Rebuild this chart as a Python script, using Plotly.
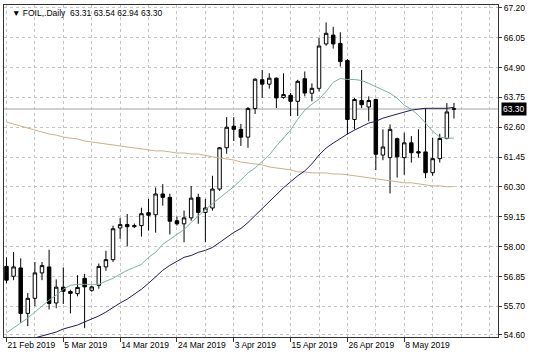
import plotly.graph_objects as go
from datetime import datetime

# ---- data ----
dates = [
    "2019-02-21", "2019-02-22", "2019-02-25", "2019-02-26", "2019-02-27", "2019-02-28", "2019-03-01", "2019-03-04",
    "2019-03-05", "2019-03-06", "2019-03-07", "2019-03-08", "2019-03-10", "2019-03-11", "2019-03-12", "2019-03-13",
    "2019-03-14", "2019-03-15", "2019-03-17", "2019-03-18", "2019-03-19", "2019-03-20", "2019-03-21", "2019-03-22",
    "2019-03-24", "2019-03-25", "2019-03-26", "2019-03-27", "2019-03-28", "2019-03-29", "2019-04-01", "2019-04-02",
    "2019-04-03", "2019-04-04", "2019-04-05", "2019-04-08", "2019-04-09", "2019-04-10", "2019-04-11", "2019-04-12",
    "2019-04-15", "2019-04-16", "2019-04-17", "2019-04-18", "2019-04-22", "2019-04-23", "2019-04-24", "2019-04-25",
    "2019-04-26", "2019-04-29", "2019-04-30", "2019-05-01", "2019-05-02", "2019-05-03", "2019-05-06", "2019-05-07",
    "2019-05-08", "2019-05-09", "2019-05-10", "2019-05-13", "2019-05-14", "2019-05-15", "2019-05-16", "2019-05-17",
]

opens = [57.24, 56.86, 57.18, 55.43, 56.01, 56.99, 57.22, 55.83, 56.44, 56.27, 56.19, 56.78, 56.32, 56.51, 57.22, 57.50,
         58.72, 58.85, 58.77, 58.81, 59.31, 59.23, 60.03, 59.90, 59.00, 58.88, 59.11, 59.90, 59.32, 59.49, 60.22, 61.81,
         62.64, 62.52, 62.22, 63.32, 64.43, 64.26, 64.49, 63.75, 63.83, 63.60, 64.47, 63.91, 64.10, 65.81, 66.15, 65.83,
         65.17, 62.90, 63.63, 63.38, 63.67, 61.53, 61.43, 62.16, 61.43, 62.00, 61.66, 61.65, 60.85, 61.39, 62.17, 63.31]
highs = [57.59, 57.79, 57.55, 56.21, 57.41, 57.41, 57.88, 56.74, 57.20, 56.34, 56.90, 56.95, 56.50, 57.35, 57.84, 58.81,
         59.11, 59.26, 58.89, 59.50, 59.84, 60.28, 60.41, 60.04, 59.16, 59.39, 60.34, 60.04, 59.84, 60.73, 61.84, 62.99,
         62.99, 62.73, 63.38, 64.49, 64.81, 64.68, 64.52, 64.68, 63.92, 64.43, 64.75, 64.29, 66.04, 66.64, 66.47, 66.26,
         65.23, 63.73, 64.81, 63.79, 63.70, 62.52, 62.71, 62.20, 62.39, 62.26, 62.52, 63.34, 62.19, 62.35, 63.53, 63.54]
lows = [56.59, 56.71, 55.07, 54.94, 55.71, 56.71, 55.58, 55.63, 55.79, 55.43, 56.09, 54.86, 56.26, 56.38, 57.07, 57.41,
        58.30, 58.01, 58.72, 58.39, 58.62, 58.54, 59.58, 58.47, 58.81, 58.17, 59.00, 58.88, 58.17, 59.39, 60.15, 61.58,
        62.07, 61.88, 61.81, 63.11, 63.73, 64.09, 63.34, 63.70, 63.03, 63.03, 63.79, 63.60, 63.98, 65.74, 65.63, 64.94,
        62.32, 62.52, 63.34, 62.83, 60.95, 61.33, 60.05, 60.66, 60.77, 61.24, 61.43, 60.64, 60.73, 61.24, 62.13, 62.94]
closes = [56.71, 57.22, 55.43, 56.01, 56.99, 57.27, 55.81, 56.44, 56.28, 56.20, 56.43, 56.45, 56.45, 57.24, 57.50, 58.69,
          58.85, 58.77, 58.81, 59.27, 59.21, 60.03, 59.90, 58.98, 58.88, 59.11, 59.87, 59.32, 59.49, 60.22, 61.81, 62.60,
          62.52, 62.22, 63.32, 64.45, 64.26, 64.49, 63.73, 63.86, 63.60, 64.37, 63.92, 64.10, 65.73, 66.22, 65.81, 65.13,
          62.90, 63.67, 63.47, 63.63, 61.56, 61.84, 62.52, 61.46, 62.00, 61.62, 61.61, 60.85, 61.39, 62.17, 63.19, 63.30]

ma_fast = [54.68, 54.87, 55.06, 55.25, 55.48, 55.71, 55.94, 56.13, 56.36, 56.51, 56.55, 56.55, 56.55, 56.55, 56.67, 56.78,
           56.94, 57.09, 57.20, 57.32, 57.59, 57.78, 58.09, 58.28, 58.47, 58.66, 58.93, 59.20, 59.43, 59.66, 59.88, 60.08,
           60.31, 60.57, 60.84, 61.03, 61.30, 61.53, 61.88, 62.18, 62.49, 62.91, 63.26, 63.49, 63.68, 63.98, 64.33, 64.48,
           64.44, 64.44, 64.40, 64.29, 64.17, 64.06, 63.91, 63.72, 63.45, 63.29, 63.06, 62.76, 62.45, 62.22, 62.18, 62.18]
ma_mid = [54.14, 54.22, 54.29, 54.41, 54.48, 54.56, 54.64, 54.71, 54.83, 54.91, 54.98, 55.10, 55.21, 55.33, 55.48, 55.67,
          55.83, 55.98, 56.17, 56.36, 56.59, 56.86, 57.09, 57.28, 57.43, 57.59, 57.66, 57.78, 57.86, 57.97, 58.16, 58.35,
          58.55, 58.70, 58.93, 59.20, 59.47, 59.73, 60.00, 60.27, 60.50, 60.73, 60.92, 61.19, 61.53, 61.80, 61.99, 62.18,
          62.34, 62.49, 62.64, 62.76, 62.83, 62.95, 63.03, 63.10, 63.18, 63.26, 63.30, 63.33, 63.33, 63.33, 63.33, 63.37]
ma_slow = [62.80, 62.72, 62.64, 62.57, 62.49, 62.41, 62.34, 62.30, 62.22, 62.18, 62.15, 62.07, 62.03, 61.99, 61.95, 61.91,
           61.88, 61.84, 61.80, 61.76, 61.72, 61.69, 61.69, 61.65, 61.61, 61.61, 61.57, 61.57, 61.50, 61.46, 61.42, 61.38,
           61.34, 61.26, 61.23, 61.19, 61.15, 61.07, 61.03, 61.00, 60.96, 60.88, 60.88, 60.84, 60.84, 60.84, 60.80, 60.80,
           60.77, 60.73, 60.69, 60.65, 60.61, 60.57, 60.54, 60.50, 60.46, 60.46, 60.42, 60.38, 60.34, 60.34, 60.31, 60.31]

price_ticks = [67.20, 66.05, 64.90, 63.75, 62.60, 61.45, 60.30, 59.15, 58.00, 56.85, 55.70, 54.60]
symbol = "FOIL,.Daily"
label_every = 8
grid_every = 4

# ---- figure ----
idx = list(range(len(dates)))
label_idx = idx[::label_every]
label_text = []
for i in label_idx:
    d = datetime.strptime(dates[i], "%Y-%m-%d")
    label_text.append(f"{d.day} {d.strftime('%b %Y')}")

grid = "#c4c4c4"
frame = "#333333"

fig = go.Figure()
fig.add_trace(go.Candlestick(
    x=idx, open=opens, high=highs, low=lows, close=closes,
    increasing=dict(line=dict(color="black", width=1), fillcolor="white"),
    decreasing=dict(line=dict(color="black", width=1), fillcolor="black"),
    whiskerwidth=0, hoverinfo="skip", showlegend=False,
))
fig.add_trace(go.Scatter(x=idx, y=ma_slow, mode="lines", line=dict(color="#cdb08c", width=1), hoverinfo="skip"))
fig.add_trace(go.Scatter(x=idx, y=ma_mid, mode="lines", line=dict(color="#1d1d5a", width=1), hoverinfo="skip"))
fig.add_trace(go.Scatter(x=idx, y=ma_fast, mode="lines", line=dict(color="#7fae9f", width=1), hoverinfo="skip"))

last = closes[-1]
fig.add_shape(type="line", xref="paper", x0=0, x1=1, yref="y", y0=last, y1=last,
              line=dict(color="#c0c0c0", width=1.5), layer="between")

fig.add_annotation(xref="paper", x=1, xanchor="left", xshift=3, yref="y", y=last,
                   text=f"{last:.2f}", showarrow=False, bgcolor="black",
                   font=dict(color="white", size=8.5), borderpad=1)

header = (f"▼ {symbol}\u00a0\u00a0{opens[-1]:.2f} {highs[-1]:.2f} "
          f"{lows[-1]:.2f} {closes[-1]:.2f}")
fig.add_annotation(xref="paper", yref="paper", x=0.012, y=0.976, xanchor="left", yanchor="middle",
                   text=header, showarrow=False, font=dict(size=8.5, color="black"))

fig.update_layout(
    width=536, height=358,
    margin=dict(l=3, r=38, t=3, b=21),
    paper_bgcolor="white", plot_bgcolor="white",
    showlegend=False,
    font=dict(family="Liberation Sans, Arial, sans-serif", size=8.5, color="black"),
    xaxis=dict(
        range=[-0.35, 69.2], tickmode="array", tickvals=label_idx, ticktext=label_text,
        tickangle=0, ticks="outside", ticklen=4, tickcolor=frame, ticklabelposition="outside right",
        showgrid=True, gridcolor=grid, griddash="3px,3px", gridwidth=1,
        minor=dict(tickmode="linear", tick0=0, dtick=grid_every, showgrid=True,
                   gridcolor=grid, griddash="3px,3px", gridwidth=1, ticks=""),
        showline=True, mirror=True, linecolor=frame, linewidth=1,
        zeroline=False, rangeslider=dict(visible=False),
    ),
    yaxis=dict(
        side="right", range=[54.52, 67.31], tickmode="array", tickvals=price_ticks,
        tickformat=".2f", ticks="outside", ticklen=3, tickcolor=frame,
        showgrid=True, gridcolor=grid, griddash="3px,3px", gridwidth=1,
        showline=True, mirror=True, linecolor=frame, linewidth=1, zeroline=False,
    ),
)

fig.write_html("out.html", config={"displayModeBar": False},
               post_script="document.body.style.margin='0';document.body.style.overflow='hidden';")
